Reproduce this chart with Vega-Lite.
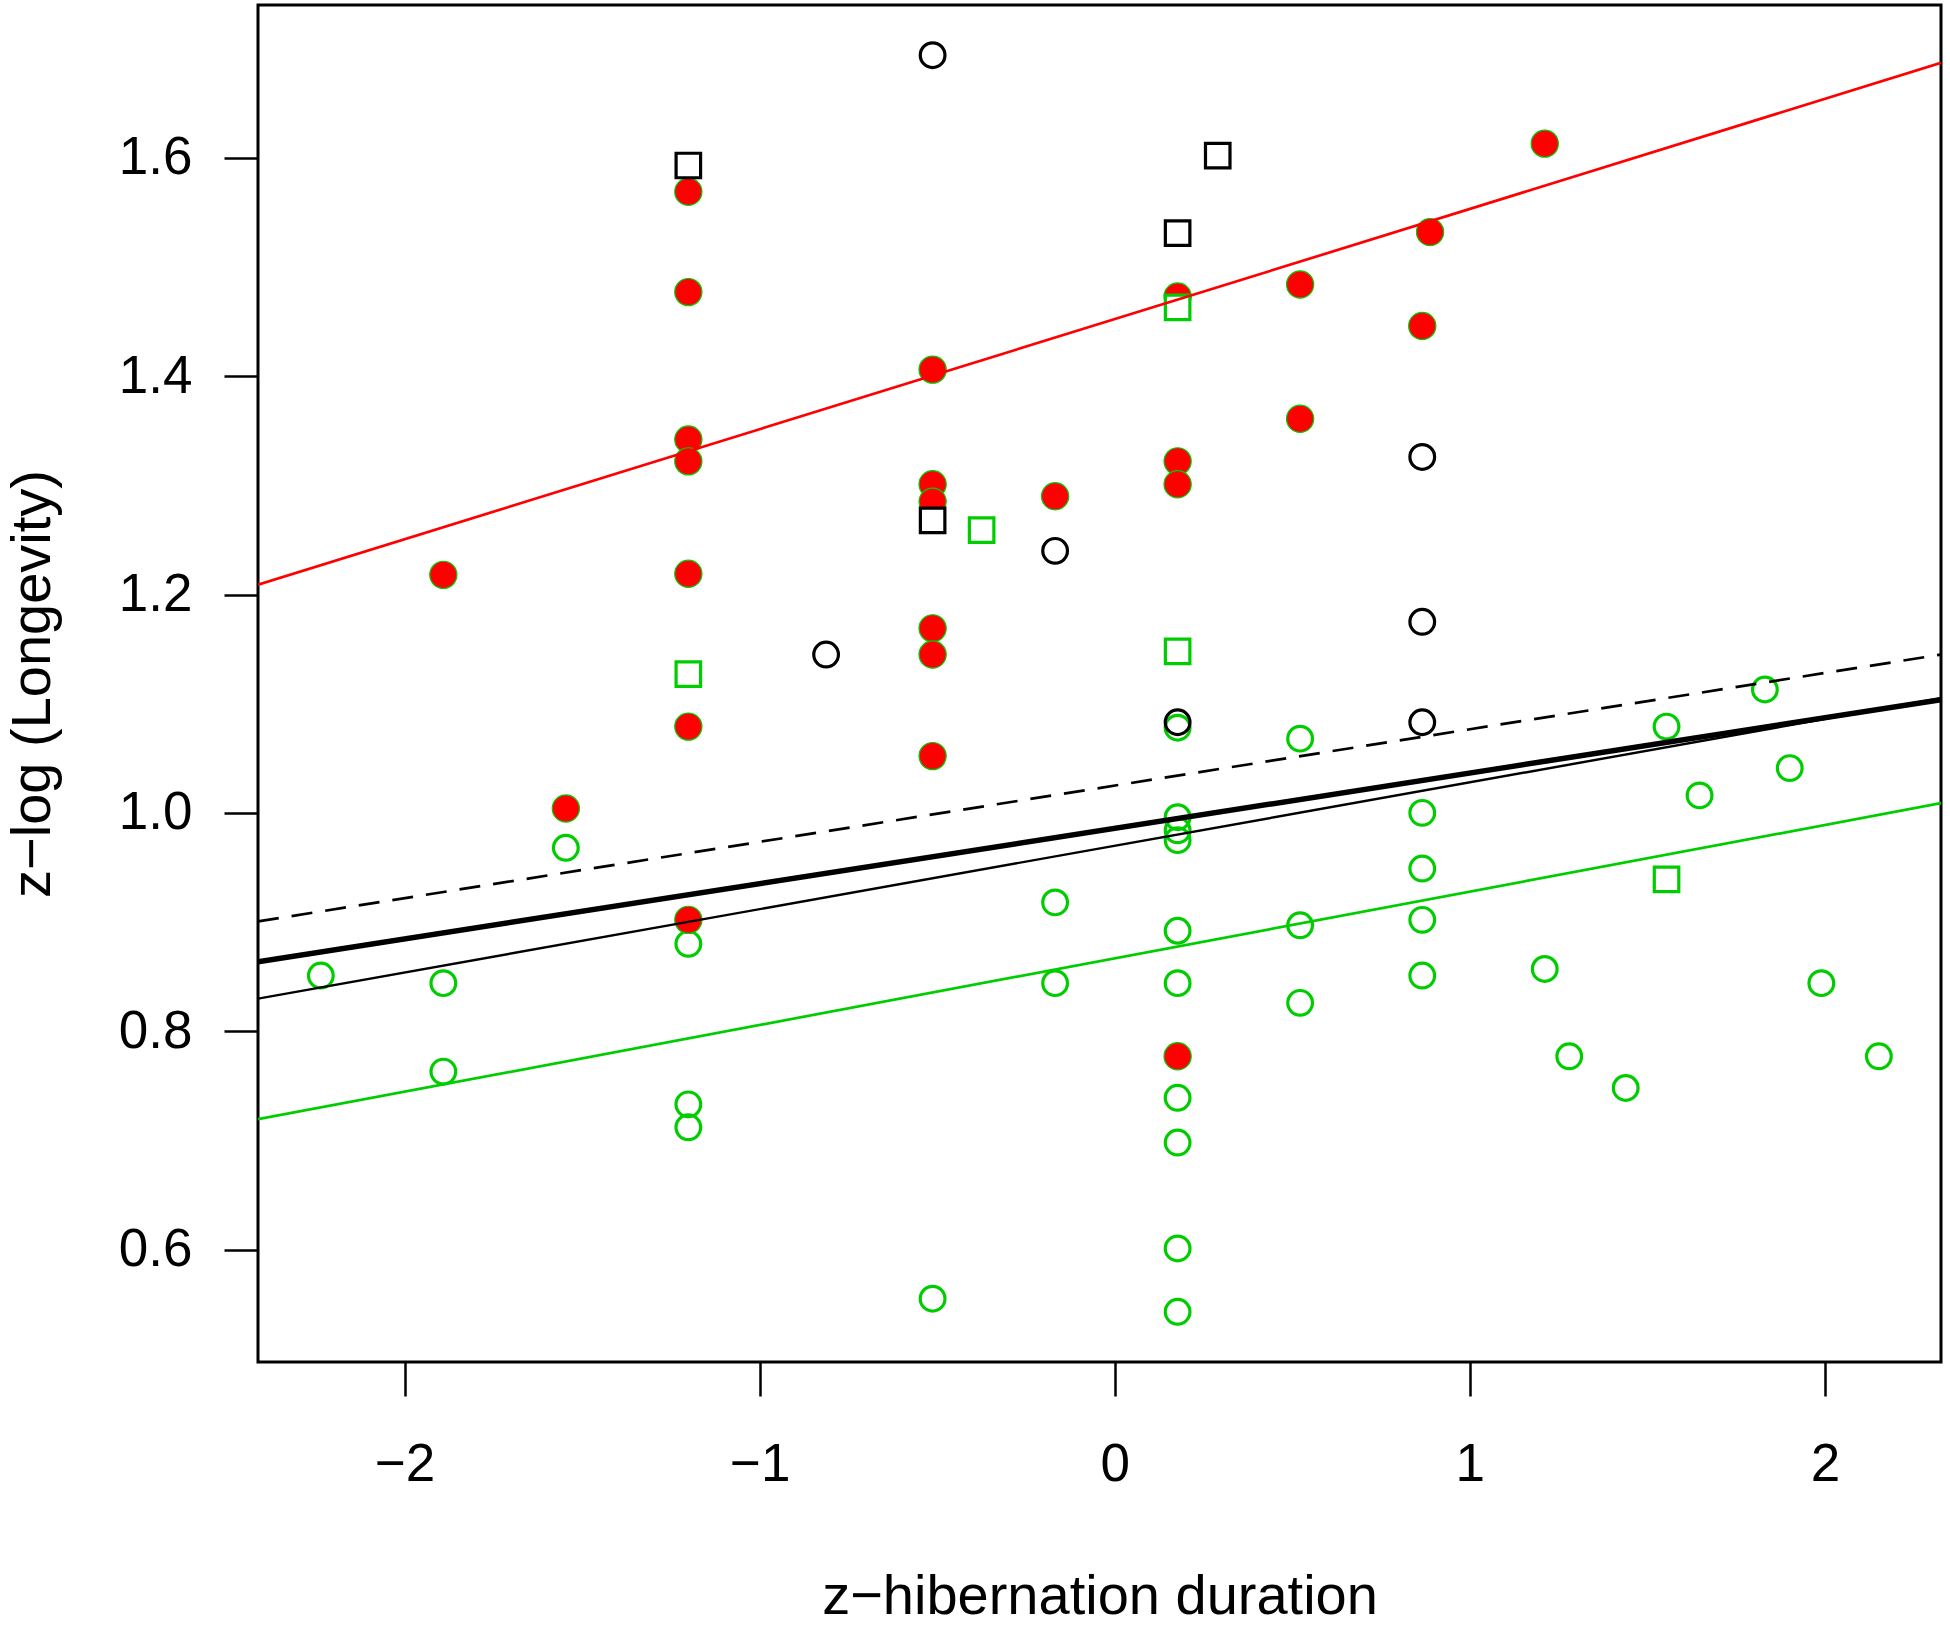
{
  "$schema": "https://vega.github.io/schema/vega-lite/v6.json",
  "description": "Longevity against hibernation duration, with fitted lines",
  "width": 1683,
  "height": 1357,
  "autosize": {"type": "none"},
  "padding": {"left": 258, "top": 5, "right": 9, "bottom": 266},
  "background": "white",
  "config": {
    "view": {"stroke": "black", "strokeWidth": 3},
    "font": "Liberation Sans",
    "axis": {
      "domain": false,
      "grid": false,
      "ticks": true,
      "tickColor": "black",
      "tickWidth": 2.5,
      "tickSize": 34,
      "labelFont": "Liberation Sans",
      "labelFontSize": 53,
      "labelColor": "black",
      "titleFont": "Liberation Sans",
      "titleFontSize": 56,
      "titleFontWeight": "normal",
      "titleColor": "black"
    }
  },
  "datasets": {
    "pts": [
      {"grp": "green_circle", "x": -2.236, "y": 0.851},
      {"grp": "green_circle", "x": -1.891, "y": 0.844},
      {"grp": "green_circle", "x": -1.891, "y": 0.763},
      {"grp": "green_circle", "x": -1.546, "y": 0.968},
      {"grp": "green_circle", "x": -1.201, "y": 0.880},
      {"grp": "green_circle", "x": -1.201, "y": 0.733},
      {"grp": "green_circle", "x": -1.201, "y": 0.712},
      {"grp": "green_circle", "x": -0.513, "y": 0.555},
      {"grp": "green_circle", "x": -0.168, "y": 0.918},
      {"grp": "green_circle", "x": -0.168, "y": 0.844},
      {"grp": "green_circle", "x": 0.177, "y": 1.078},
      {"grp": "green_circle", "x": 0.177, "y": 0.996},
      {"grp": "green_circle", "x": 0.177, "y": 0.984},
      {"grp": "green_circle", "x": 0.177, "y": 0.975},
      {"grp": "green_circle", "x": 0.177, "y": 0.892},
      {"grp": "green_circle", "x": 0.177, "y": 0.844},
      {"grp": "green_circle", "x": 0.177, "y": 0.739},
      {"grp": "green_circle", "x": 0.177, "y": 0.698},
      {"grp": "green_circle", "x": 0.177, "y": 0.601},
      {"grp": "green_circle", "x": 0.177, "y": 0.543},
      {"grp": "green_circle", "x": 0.522, "y": 1.068},
      {"grp": "green_circle", "x": 0.522, "y": 0.897},
      {"grp": "green_circle", "x": 0.522, "y": 0.826},
      {"grp": "green_circle", "x": 0.866, "y": 1.000},
      {"grp": "green_circle", "x": 0.866, "y": 0.949},
      {"grp": "green_circle", "x": 0.866, "y": 0.902},
      {"grp": "green_circle", "x": 0.866, "y": 0.851},
      {"grp": "green_circle", "x": 1.211, "y": 0.857},
      {"grp": "green_circle", "x": 1.280, "y": 0.777},
      {"grp": "green_circle", "x": 1.439, "y": 0.748},
      {"grp": "green_circle", "x": 1.554, "y": 1.079},
      {"grp": "green_circle", "x": 1.647, "y": 1.016},
      {"grp": "green_circle", "x": 1.831, "y": 1.113},
      {"grp": "green_circle", "x": 1.901, "y": 1.041},
      {"grp": "green_circle", "x": 1.990, "y": 0.844},
      {"grp": "green_circle", "x": 2.152, "y": 0.777},
      {"grp": "red_dot", "x": -1.891, "y": 1.218},
      {"grp": "red_dot", "x": -1.546, "y": 1.004},
      {"grp": "red_dot", "x": -1.201, "y": 1.569},
      {"grp": "red_dot", "x": -1.201, "y": 1.477},
      {"grp": "red_dot", "x": -1.201, "y": 1.342},
      {"grp": "red_dot", "x": -1.201, "y": 1.322},
      {"grp": "red_dot", "x": -1.201, "y": 1.219},
      {"grp": "red_dot", "x": -1.201, "y": 1.079},
      {"grp": "red_dot", "x": -1.201, "y": 0.902},
      {"grp": "red_dot", "x": -0.513, "y": 1.406},
      {"grp": "red_dot", "x": -0.513, "y": 1.301},
      {"grp": "red_dot", "x": -0.513, "y": 1.285},
      {"grp": "red_dot", "x": -0.513, "y": 1.169},
      {"grp": "red_dot", "x": -0.513, "y": 1.145},
      {"grp": "red_dot", "x": -0.513, "y": 1.052},
      {"grp": "red_dot", "x": -0.168, "y": 1.290},
      {"grp": "red_dot", "x": 0.177, "y": 1.473},
      {"grp": "red_dot", "x": 0.177, "y": 1.322},
      {"grp": "red_dot", "x": 0.177, "y": 1.301},
      {"grp": "red_dot", "x": 0.177, "y": 0.777},
      {"grp": "red_dot", "x": 0.522, "y": 1.484},
      {"grp": "red_dot", "x": 0.522, "y": 1.361},
      {"grp": "red_dot", "x": 0.866, "y": 1.446},
      {"grp": "red_dot", "x": 0.888, "y": 1.532},
      {"grp": "red_dot", "x": 1.211, "y": 1.613},
      {"grp": "black_circle", "x": -0.513, "y": 1.694},
      {"grp": "black_circle", "x": -0.813, "y": 1.145},
      {"grp": "black_circle", "x": -0.168, "y": 1.240},
      {"grp": "black_circle", "x": 0.177, "y": 1.083},
      {"grp": "black_circle", "x": 0.866, "y": 1.326},
      {"grp": "black_circle", "x": 0.866, "y": 1.175},
      {"grp": "black_circle", "x": 0.866, "y": 1.083},
      {"grp": "black_square", "x": -1.201, "y": 1.593},
      {"grp": "black_square", "x": -0.513, "y": 1.268},
      {"grp": "black_square", "x": 0.177, "y": 1.531},
      {"grp": "black_square", "x": 0.290, "y": 1.602},
      {"grp": "green_square", "x": -1.201, "y": 1.127},
      {"grp": "green_square", "x": -0.375, "y": 1.259},
      {"grp": "green_square", "x": 0.177, "y": 1.463},
      {"grp": "green_square", "x": 0.177, "y": 1.148},
      {"grp": "green_square", "x": 1.554, "y": 0.939}
    ],
    "fits": [
      {"fit": "red", "x": -2.413, "y": 1.209},
      {"fit": "red", "x": 2.327, "y": 1.687},
      {"fit": "green", "x": -2.413, "y": 0.7194},
      {"fit": "green", "x": 2.327, "y": 1.0089},
      {"fit": "dashed", "x": -2.413, "y": 0.9006},
      {"fit": "dashed", "x": 2.327, "y": 1.145},
      {"fit": "thick", "x": -2.413, "y": 0.8636},
      {"fit": "thick", "x": 2.327, "y": 1.1037},
      {"fit": "thin", "x": -2.413, "y": 0.8298},
      {"fit": "thin", "x": 2.327, "y": 1.105}
    ]
  },
  "encoding": {
    "x": {
      "field": "x",
      "type": "quantitative",
      "scale": {"domain": [-2.413, 2.327], "nice": false, "zero": false},
      "axis": {
        "title": "z\u2212hibernation duration",
        "values": [-2, -1, 0, 1, 2],
        "format": "d",
        "labelPadding": 42,
        "titlePadding": 78
      }
    },
    "y": {
      "field": "y",
      "type": "quantitative",
      "scale": {"domain": [0.497, 1.74], "nice": false, "zero": false},
      "axis": {
        "title": "z\u2212log (Longevity)",
        "values": [0.6, 0.8, 1.0, 1.2, 1.4, 1.6],
        "format": ".1f",
        "labelPadding": 32,
        "titlePadding": 57
      }
    }
  },
  "layer": [
    {
      "data": {"name": "pts"},
      "transform": [{"filter": "datum.grp === 'green_circle'"}],
      "mark": {"type": "point", "shape": "circle", "filled": false, "opacity": 1, "stroke": "#00CD00", "strokeWidth": 3.2, "size": 610, "clip": true}
    },
    {
      "data": {"name": "pts"},
      "transform": [{"filter": "datum.grp === 'red_dot'"}],
      "mark": {"type": "point", "shape": "circle", "filled": true, "opacity": 1, "fill": "#FF0000", "fillOpacity": 1, "stroke": "#00CD00", "strokeWidth": 1.2, "size": 740, "clip": true}
    },
    {
      "data": {"name": "pts"},
      "transform": [{"filter": "datum.grp === 'black_circle'"}],
      "mark": {"type": "point", "shape": "circle", "filled": false, "opacity": 1, "stroke": "black", "strokeWidth": 3.2, "size": 610, "clip": true}
    },
    {
      "data": {"name": "pts"},
      "transform": [{"filter": "datum.grp === 'black_square'"}],
      "mark": {"type": "point", "shape": "square", "filled": true, "opacity": 1, "fill": "white", "fillOpacity": 1, "stroke": "black", "strokeWidth": 3.2, "size": 600, "clip": true}
    },
    {
      "data": {"name": "pts"},
      "transform": [{"filter": "datum.grp === 'green_square'"}],
      "mark": {"type": "point", "shape": "square", "filled": true, "opacity": 1, "fill": "white", "fillOpacity": 1, "stroke": "#00CD00", "strokeWidth": 3.2, "size": 600, "clip": true}
    },
    {
      "data": {"name": "fits"},
      "transform": [{"filter": "datum.fit === 'red'"}],
      "mark": {"type": "line", "color": "#FF0000", "strokeWidth": 2.7, "clip": true}
    },
    {
      "data": {"name": "fits"},
      "transform": [{"filter": "datum.fit === 'green'"}],
      "mark": {"type": "line", "color": "#00CD00", "strokeWidth": 2.7, "clip": true}
    },
    {
      "data": {"name": "fits"},
      "transform": [{"filter": "datum.fit === 'dashed'"}],
      "mark": {"type": "line", "color": "black", "strokeWidth": 2.7, "strokeDash": [21, 13], "clip": true}
    },
    {
      "data": {"name": "fits"},
      "transform": [{"filter": "datum.fit === 'thick'"}],
      "mark": {"type": "line", "color": "black", "strokeWidth": 5.4, "clip": true}
    },
    {
      "data": {"name": "fits"},
      "transform": [{"filter": "datum.fit === 'thin'"}],
      "mark": {"type": "line", "color": "black", "strokeWidth": 2.4, "clip": true}
    }
  ]
}
